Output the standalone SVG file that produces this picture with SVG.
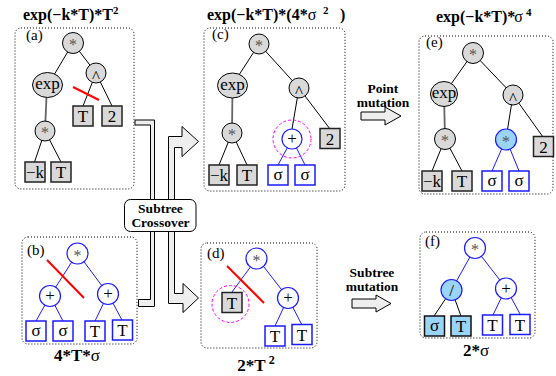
<svg xmlns="http://www.w3.org/2000/svg" width="556" height="376" viewBox="0 0 556 376">
<style>
.box{fill:none;stroke:#000;stroke-width:1;stroke-dasharray:1 2}
.gc{fill:#d9d9d9;stroke:#000;stroke-width:1}
.bc{fill:#fff;stroke:#1a1aff;stroke-width:1.2}
.lc{fill:#9ad4f7;stroke:#1a1aff;stroke-width:1.2}
.gs{fill:#d9d9d9;stroke:#222;stroke-width:1.5}
.bs{fill:#fff;stroke:#1a1aff;stroke-width:1.5}
.ls{fill:#9ad4f7;stroke:#111;stroke-width:1.5}
.e{stroke:#000;stroke-width:1;fill:none}
.eb{stroke:#1a1aff;stroke-width:1;fill:none}
.eg{stroke:#666;stroke-width:1.8;fill:none}
.red{stroke:#f00;stroke-width:2}
.mag{fill:none;stroke:#f0f;stroke-width:1;stroke-dasharray:3 2}
.t{font-family:"Liberation Serif",serif;font-size:17px;text-anchor:middle;fill:#000}
.a{font-family:"Liberation Serif",serif;font-size:16px;text-anchor:middle;fill:#555}
.lab{font-family:"Liberation Serif",serif;font-size:15px;fill:#000}
.ti{font-family:"Liberation Serif",serif;font-weight:bold;font-size:16px;fill:#000}
.bt{font-family:"Liberation Serif",serif;font-weight:bold;font-size:17px;text-anchor:middle;fill:#000}
.mt{font-family:"Liberation Serif",serif;font-weight:bold;font-size:13.5px;text-anchor:middle;fill:#000}
.arr{fill:#eee;stroke:#000;stroke-width:1}
</style>

<!-- panel boxes -->
<g id="boxes">
<rect class="box" x="15" y="28" width="119" height="161" rx="6"/>
<rect class="box" x="204" y="28" width="141" height="163" rx="6"/>
<rect class="box" x="419" y="36" width="134" height="158" rx="6"/>
<rect class="box" x="22" y="237" width="115" height="107" rx="6"/>
<rect class="box" x="201" y="243" width="116" height="105" rx="6"/>
<rect class="box" x="420" y="232" width="115" height="106" rx="6"/>
</g>

<!-- titles -->
<g id="titles">
<text class="ti" x="23" y="20">exp(−k*T)*T<tspan font-size="11" dy="-6">2</tspan></text>
<text class="ti" x="207" y="20">exp(−k*T)*(4*<tspan font-weight="normal">σ</tspan><tspan font-size="11" dy="-6" x="323">2</tspan><tspan dy="6" x="340">)</tspan></text>
<text class="ti" x="436" y="22">exp(−k*T)*<tspan font-weight="normal" dx="-1">σ</tspan><tspan font-size="11" dy="-6" dx="3">4</tspan></text>
<text class="bt" x="77" y="361">4*T*<tspan font-weight="normal">σ</tspan></text>
<text class="bt" x="256" y="371">2*T<tspan font-size="12" dy="-7" dx="3">2</tspan></text>
<text class="bt" x="476" y="356">2*<tspan font-weight="normal">σ</tspan></text>
<text class="lab" x="26" y="40">(a)</text>
<text class="lab" x="27" y="255">(b)</text>
<text class="lab" x="212" y="39">(c)</text>
<text class="lab" x="207" y="258">(d)</text>
<text class="lab" x="426" y="47">(e)</text>
<text class="lab" x="425" y="246">(f)</text>
</g>

<!-- connectors -->
<g id="connectors">
<!-- a -->
<line class="e" x1="73" y1="43" x2="48" y2="85"/>
<line class="e" x1="73" y1="43" x2="96" y2="73"/>
<line class="eg" x1="47" y1="85" x2="45" y2="131"/>
<line class="e" x1="96" y1="73" x2="83" y2="106"/>
<line class="e" x1="96" y1="73" x2="112" y2="106"/>
<line class="e" x1="45" y1="131" x2="34.5" y2="162"/>
<line class="e" x1="45" y1="131" x2="61" y2="162"/>
<!-- c -->
<line class="e" x1="259" y1="44" x2="232.5" y2="85"/>
<line class="e" x1="259" y1="44" x2="299" y2="88"/>
<line class="eg" x1="232.5" y1="85" x2="232" y2="133"/>
<line class="e" x1="299" y1="88" x2="292" y2="129"/>
<line class="e" x1="299" y1="88" x2="330" y2="129"/>
<line class="e" x1="232" y1="133" x2="219" y2="165"/>
<line class="e" x1="232" y1="133" x2="247" y2="165"/>
<line class="eb" x1="292" y1="139" x2="278" y2="165"/>
<line class="eb" x1="292" y1="139" x2="305" y2="165"/>
<!-- e -->
<line class="e" x1="473" y1="53" x2="444" y2="94"/>
<line class="e" x1="473" y1="53" x2="513" y2="95"/>
<line class="eg" x1="444" y1="94" x2="445" y2="139"/>
<line class="e" x1="513" y1="95" x2="506" y2="139"/>
<line class="e" x1="513" y1="95" x2="543" y2="137"/>
<line class="e" x1="445" y1="139" x2="432" y2="171"/>
<line class="e" x1="445" y1="139" x2="462" y2="171"/>
<line class="eb" x1="506" y1="139" x2="492" y2="171"/>
<line class="eb" x1="506" y1="139" x2="519" y2="171"/>
<!-- b -->
<line class="eb" x1="77.5" y1="253" x2="50" y2="296"/>
<line class="eb" x1="77.5" y1="253" x2="108" y2="294"/>
<line class="eb" x1="50" y1="296" x2="36" y2="321"/>
<line class="eb" x1="50" y1="296" x2="63" y2="321"/>
<line class="eb" x1="108" y1="294" x2="95" y2="321"/>
<line class="eb" x1="108" y1="294" x2="122" y2="320"/>
<!-- d -->
<line class="eb" x1="257" y1="258" x2="232" y2="292"/>
<line class="eb" x1="257" y1="258" x2="288" y2="298"/>
<line class="eb" x1="288" y1="298" x2="275" y2="326"/>
<line class="eb" x1="288" y1="298" x2="302" y2="325"/>
<!-- f -->
<line class="eb" x1="475" y1="248" x2="451.5" y2="290"/>
<line class="eb" x1="475" y1="248" x2="506" y2="288"/>
<line class="e" x1="451.5" y1="290" x2="434" y2="316"/>
<line class="e" x1="451.5" y1="290" x2="461" y2="316"/>
<line class="eb" x1="506" y1="288" x2="493" y2="315"/>
<line class="eb" x1="506" y1="288" x2="520" y2="314"/>
<!-- cut marks -->
<line class="red" x1="73" y1="87" x2="99" y2="100"/>
<line class="red" x1="47" y1="260" x2="84" y2="298"/>
<line class="red" x1="227" y1="266" x2="264" y2="303"/>
<!-- block arrows -->
<path class="arr" d="M135,120 H154.5 V306.5 H138.5 V299.5 H150.5 V125 H135 Z"/>
<path class="arr" d="M168.5,136.5 H182 V126.5 L198.5,141.5 L182,156.5 V147.5 H174.5 V293.5 H183 V283.5 L198.5,298 L183,312.5 V303.5 H168.5 Z"/>
<path class="arr" d="M361,112 H385 V107 L401,116 L385,125 V120 H361 Z"/>
<path class="arr" d="M352,299 H376 V295 L391,303.5 L376,312 V308 H352 Z"/>
</g>

<!-- arrow labels -->
<g id="crossover">
<rect x="124.5" y="199.5" width="71.5" height="32" rx="6" fill="#fff" stroke="#000" stroke-width="1"/>
<text class="mt" x="160.5" y="213">Subtree</text>
<text class="mt" x="160.5" y="227">Crossover</text>
</g>
<g id="point-mutation">
<text class="mt" x="383" y="92.5">Point</text>
<text class="mt" x="383" y="106.5">mutation</text>
</g>
<g id="subtree-mutation">
<text class="mt" x="372" y="276.5">Subtree</text>
<text class="mt" x="372" y="290.5">mutation</text>
</g>

<!-- panel a nodes -->
<g id="a-root"><circle class="gc" cx="73" cy="43" r="10.5"/><text class="a" x="73" y="50">*</text></g>
<g id="a-exp"><ellipse class="gc" cx="47.5" cy="85" rx="15" ry="12.5"/><text class="t" x="47.5" y="89" font-size="16">exp</text></g>
<g id="a-pow"><circle class="gc" cx="96" cy="73" r="10"/><text class="t" x="96" y="82" font-size="15">^</text></g>
<g id="a-mul"><circle class="gc" cx="45" cy="131" r="10"/><text class="a" x="45" y="138">*</text></g>
<g id="a-T1"><rect class="gs" x="73" y="106" width="20" height="20"/><text class="t" x="83" y="122">T</text></g>
<g id="a-2"><rect class="gs" x="102" y="106" width="20" height="20"/><text class="t" x="112" y="122">2</text></g>
<g id="a-k"><rect class="gs" x="25" y="162" width="20" height="20"/><text class="t" x="35" y="178">−k</text></g>
<g id="a-T2"><rect class="gs" x="51" y="162" width="20" height="20"/><text class="t" x="61" y="178">T</text></g>

<!-- panel c nodes -->
<g id="c-root"><circle class="gc" cx="259" cy="44" r="10"/><text class="a" x="259" y="51">*</text></g>
<g id="c-exp"><ellipse class="gc" cx="232.5" cy="85.5" rx="15" ry="12.5"/><text class="t" x="232.5" y="89.5" font-size="16">exp</text></g>
<g id="c-pow"><circle class="gc" cx="299" cy="88" r="10"/><text class="t" x="299" y="97" font-size="15">^</text></g>
<g id="c-mul"><circle class="gc" cx="232" cy="133" r="10"/><text class="a" x="232" y="140">*</text></g>
<g id="c-plus"><circle class="mag" cx="292" cy="139" r="19"/><circle class="bc" cx="292" cy="139" r="10"/><text class="t" x="292" y="144" font-size="16">+</text></g>
<g id="c-2"><rect class="gs" x="320" y="128.5" width="20" height="20"/><text class="t" x="330" y="144.5">2</text></g>
<g id="c-k"><rect class="gs" x="209" y="165" width="20" height="20"/><text class="t" x="219" y="181">−k</text></g>
<g id="c-T"><rect class="gs" x="237" y="165" width="20" height="20"/><text class="t" x="247" y="181">T</text></g>
<g id="c-s1"><rect class="bs" x="268" y="165" width="20" height="20"/><text class="t" x="278" y="180">σ</text></g>
<g id="c-s2"><rect class="bs" x="295" y="165" width="20" height="20"/><text class="t" x="305" y="180">σ</text></g>

<!-- panel e nodes -->
<g id="e-root"><circle class="gc" cx="473" cy="53" r="10.5"/><text class="a" x="473" y="60">*</text></g>
<g id="e-exp"><ellipse class="gc" cx="444" cy="94" rx="13.5" ry="12.5"/><text class="t" x="444" y="98" font-size="16">exp</text></g>
<g id="e-pow"><circle class="gc" cx="513" cy="95" r="10"/><text class="t" x="513" y="104" font-size="15">^</text></g>
<g id="e-mul"><circle class="gc" cx="445" cy="139" r="10.5"/><text class="a" x="445" y="146">*</text></g>
<g id="e-mul2"><circle class="lc" cx="506" cy="139.5" r="10.5"/><text class="a" x="506" y="146.5">*</text></g>
<g id="e-2"><rect class="gs" x="533.5" y="136.5" width="20" height="20"/><text class="t" x="543.5" y="152.5">2</text></g>
<g id="e-k"><rect class="gs" x="422" y="171" width="20" height="20"/><text class="t" x="432" y="187">−k</text></g>
<g id="e-T"><rect class="gs" x="452" y="171" width="20" height="20"/><text class="t" x="462" y="187">T</text></g>
<g id="e-s1"><rect class="bs" x="482" y="171" width="20" height="20"/><text class="t" x="492" y="186">σ</text></g>
<g id="e-s2"><rect class="bs" x="509" y="171" width="20" height="20"/><text class="t" x="519" y="186">σ</text></g>

<!-- panel b nodes -->
<g id="b-root"><circle class="bc" cx="77.5" cy="253.5" r="10.5"/><text class="a" x="77.5" y="260.5">*</text></g>
<g id="b-plus1"><circle class="bc" cx="50" cy="296" r="10.5"/><text class="t" x="50" y="301" font-size="16">+</text></g>
<g id="b-plus2"><circle class="bc" cx="108" cy="294" r="10.5"/><text class="t" x="108" y="299" font-size="16">+</text></g>
<g id="b-s1"><rect class="bs" x="26" y="321" width="20" height="20"/><text class="t" x="36" y="336">σ</text></g>
<g id="b-s2"><rect class="bs" x="53" y="321" width="20" height="20"/><text class="t" x="63" y="336">σ</text></g>
<g id="b-T1"><rect class="bs" x="85" y="321" width="20" height="20"/><text class="t" x="95" y="337">T</text></g>
<g id="b-T2"><rect class="bs" x="112.5" y="320" width="20" height="20"/><text class="t" x="122.5" y="336">T</text></g>

<!-- panel d nodes -->
<g id="d-root"><circle class="bc" cx="256.5" cy="258.5" r="10.5"/><text class="a" x="256.5" y="265.5">*</text></g>
<g id="d-T"><circle class="mag" cx="230.5" cy="304" r="18.5"/><rect class="gs" x="222" y="292.5" width="20" height="20"/><text class="t" x="232" y="308.5">T</text></g>
<g id="d-plus"><circle class="bc" cx="288" cy="298" r="10.5"/><text class="t" x="288" y="303" font-size="16">+</text></g>
<g id="d-T1"><rect class="bs" x="265" y="326" width="20" height="20"/><text class="t" x="275" y="342">T</text></g>
<g id="d-T2"><rect class="bs" x="292" y="324.5" width="20" height="20"/><text class="t" x="302" y="340.5">T</text></g>

<!-- panel f nodes -->
<g id="f-root"><circle class="bc" cx="475" cy="248" r="10.5"/><text class="a" x="475" y="255">*</text></g>
<g id="f-div"><circle class="lc" cx="451.5" cy="290" r="10.5"/><text class="t" x="451.5" y="296" font-size="16">/</text></g>
<g id="f-plus"><circle class="bc" cx="506" cy="288.5" r="10.5"/><text class="t" x="506" y="293.5" font-size="16">+</text></g>
<g id="f-s"><rect class="ls" x="424.5" y="316" width="20" height="20"/><text class="t" x="434.5" y="331">σ</text></g>
<g id="f-T1"><rect class="ls" x="451" y="316" width="20" height="20"/><text class="t" x="461" y="332">T</text></g>
<g id="f-T2"><rect class="bs" x="482.5" y="315" width="20" height="20"/><text class="t" x="492.5" y="331">T</text></g>
<g id="f-T3"><rect class="bs" x="510" y="314.5" width="20" height="20"/><text class="t" x="520" y="330.5">T</text></g>
</svg>
